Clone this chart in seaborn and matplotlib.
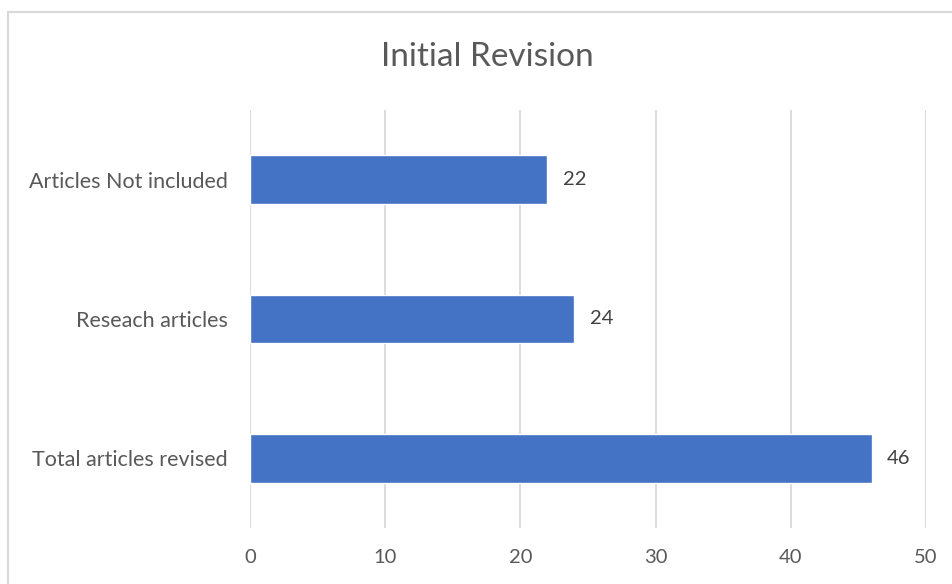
import matplotlib
matplotlib.use("Agg")
import matplotlib.pyplot as plt
import seaborn as sns
import pandas as pd
from matplotlib.patches import Rectangle

categories = ["Articles Not included", "Reseach articles", "Total articles revised"]
values = [22, 24, 46]
xticks = [0, 10, 20, 30, 40, 50]
title = "Initial Revision"

sns.set_theme(style="white")
plt.rcParams["font.family"] = ["Lato", "DejaVu Sans"]

W, H = 952, 584
fig = plt.figure(figsize=(W / 100, H / 100), dpi=100)
ax = fig.add_axes([250 / W, 1 - 528 / H, (926 - 250) / W, (528 - 110) / H])

df = pd.DataFrame({"cat": categories, "val": values})
sns.barplot(data=df, y="cat", x="val", order=categories, color="#4472C4",
            saturation=1, width=0.35, ax=ax, orient="h")

ax.set_xlim(0, 50)
ax.set_ylim(2.5, -0.5)
ax.set_xticks(xticks)
ax.set_xticklabels([str(t) for t in xticks])
ax.xaxis.grid(True, color="#d9d9d9", linewidth=1.3)
ax.set_axisbelow(True)
for s in ax.spines.values():
    s.set_visible(False)
ax.set_xlabel("")
ax.set_ylabel("")
ax.tick_params(axis="both", length=0, colors="#595959")
ax.tick_params(axis="y", pad=16, labelsize=15.5)
ax.tick_params(axis="x", pad=15, labelsize=14.5)

for i, v in enumerate(values):
    ax.annotate(str(v), xy=(v, i), xytext=(11, 0), textcoords="offset points",
                va="center", ha="left", fontsize=14.5, color="#404040")

fig.text(487 / W, 1 - 57 / H, title, ha="center", va="center",
         fontsize=24, color="#595959")

fig.patches.append(Rectangle((8 / W, -0.1), 1.2, 1 - 12 / H + 0.1,
                             transform=fig.transFigure, fill=False,
                             edgecolor="#d9d9d9", linewidth=1.5))

fig.savefig("out.png", dpi=100, facecolor="white")
